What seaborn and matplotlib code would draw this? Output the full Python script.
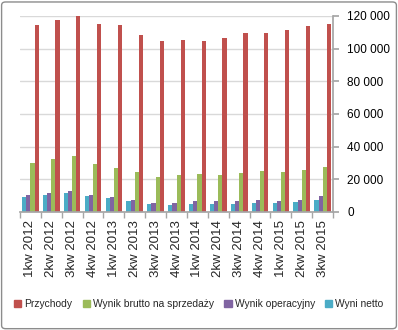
import matplotlib
matplotlib.use("Agg")
import matplotlib.pyplot as plt
import seaborn as sns
import pandas as pd
import numpy as np
from matplotlib.patches import FancyBboxPatch
from matplotlib.ticker import FuncFormatter, FixedLocator

quarters = ["1kw 2012", "2kw 2012", "3kw 2012", "4kw 2012", "1kw 2013", "2kw 2013",
            "3kw 2013", "4kw 2013", "1kw 2014", "2kw 2014", "3kw 2014", "4kw 2014",
            "1kw 2015", "2kw 2015", "3kw 2015"]
przychody = [114300, 117400, 119600, 115300, 114300, 108000, 104300, 105300,
             104300, 106300, 109600, 109400, 111600, 113700, 115300]
brutto = [30000, 32600, 34100, 29400, 26900, 24100, 21200, 22400,
          23300, 22700, 23700, 24900, 24500, 25900, 27300]
operacyjny = [10600, 11600, 12700, 10200, 9000, 7100, 5500, 5700,
              6700, 6700, 6700, 7300, 6700, 7500, 9600]
netto = [9400, 10600, 11400, 9800, 8600, 6900, 4700, 4100,
         4700, 4700, 4900, 5500, 5300, 5900, 7300]

series_names = ["Przychody", "Wynik brutto na sprzedaży", "Wynik operacyjny", "Wyni netto"]
colors = {"Przychody": "#C0504D", "Wynik brutto na sprzedaży": "#9BBB59",
          "Wynik operacyjny": "#8064A2", "Wyni netto": "#4BACC6"}

df = pd.concat([
    pd.DataFrame({"kw": quarters, "seria": name, "val": vals})
    for name, vals in zip(series_names, [przychody, brutto, operacyjny, netto])
])

sns.set_theme(style="white")
plt.rcParams['font.family'] = ['Liberation Sans', 'DejaVu Sans']

fig = plt.figure(figsize=(3.98, 3.30), dpi=100)
ax = fig.add_axes([0.05, 0.358, 0.787, 0.594])

hue_order = ["Wyni netto", "Wynik operacyjny", "Wynik brutto na sprzedaży", "Przychody"]
sns.barplot(data=df, x="kw", y="val", hue="seria", hue_order=hue_order,
            palette=colors, width=0.8, ax=ax, legend=False, saturation=1,
            edgecolor="none")

ax.set_ylim(0, 120000)
ax.set_xlim(-0.5, len(quarters) - 0.5)
ax.yaxis.tick_right()
ax.yaxis.set_major_locator(FixedLocator(np.arange(0, 120001, 20000)))
ax.yaxis.set_major_formatter(FuncFormatter(lambda v, p: f"{int(v):,}".replace(",", " ")))
ax.grid(axis="y", color="#D9D9D9", linewidth=1)
ax.set_axisbelow(True)
ax.set_xlabel("")
ax.set_ylabel("")
for s in ["top", "left"]:
    ax.spines[s].set_visible(False)
ax.spines["right"].set_color("#A6A6A6")
ax.spines["bottom"].set_color("#A6A6A6")
ax.tick_params(axis="y", right=True, length=4, color="#A6A6A6", labelsize=8.5, pad=6,
               labelcolor="black")
ax.set_xticks(range(len(quarters)))
ax.set_xticklabels(quarters, rotation=90, fontsize=9.5)
ax.tick_params(axis="x", length=0, pad=6)
ax.set_xticks(np.arange(-0.5, len(quarters), 1), minor=True)
ax.tick_params(axis="x", which="minor", bottom=True, length=4, color="#A6A6A6")

handles = [plt.Rectangle((0, 0), 1, 1, color=colors[n]) for n in series_names]
fig.legend(handles, series_names, loc="center", bbox_to_anchor=(0.5, 0.078), ncol=4,
           frameon=False, fontsize=7.4, handlelength=0.7, handleheight=0.7,
           handletextpad=0.3, columnspacing=1.0)

border = FancyBboxPatch((0.004, 0.004), 0.992, 0.99, boxstyle="round,pad=0,rounding_size=0.01",
                        transform=fig.transFigure, fill=False, edgecolor="#8C8C8C",
                        linewidth=1)
fig.patches.append(border)

fig.savefig("out.png", dpi=100)
